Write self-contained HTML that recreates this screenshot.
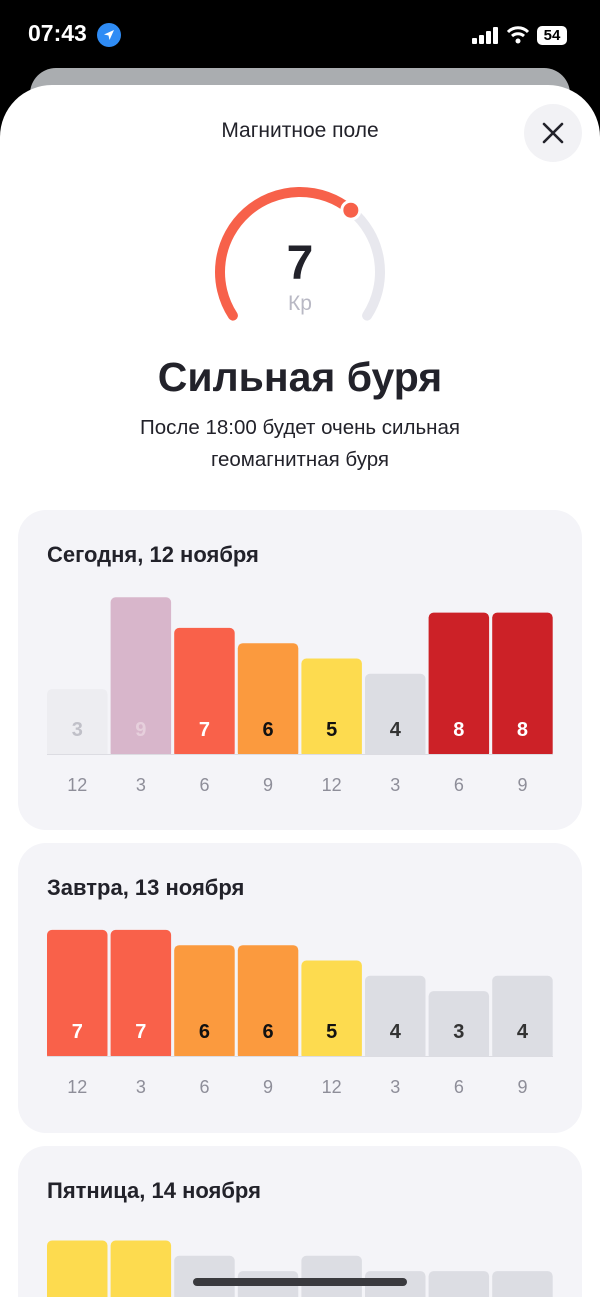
<!DOCTYPE html>
<html><head><meta charset="utf-8">
<style>
*{margin:0;padding:0;box-sizing:border-box}
html,body{width:600px;height:1297px;overflow:hidden}
body{background:#000;font-family:"Liberation Sans","Noto Sans CJK SC",sans-serif;position:relative}
.abs{position:absolute}
.sheet{position:absolute;left:0;top:85px;width:600px;height:1212px;background:#fff;border-radius:52px 52px 0 0}
.card{position:absolute;left:18px;width:564px;background:#f4f4f8;border-radius:28px;overflow:hidden}
.ctitle{position:absolute;left:29px;top:32px;font-size:22px;font-weight:bold;color:#22222a}
</style></head><body>
<div class="abs" style="left:28px;top:20px;color:#fff;font-size:23px;font-weight:bold">07:43</div>
<div class="abs" style="left:97px;top:23px;width:24px;height:24px;border-radius:50%;background:#2f8cf5"><svg width="24" height="24"><path d="M17 7 L7 11.5 L11.5 12.5 L12.5 17 Z" fill="#fff"/></svg></div>
<svg class="abs" style="left:472px;top:26px" width="30" height="20"><rect x="0" y="12" width="5" height="6" rx="1" fill="#fff"/><rect x="7" y="9" width="5" height="9" rx="1" fill="#fff"/><rect x="14" y="5" width="5" height="13" rx="1" fill="#fff"/><rect x="21" y="1" width="5" height="17" rx="1" fill="#fff"/></svg>
<svg class="abs" style="left:506px;top:25px" width="24" height="20"><path d="M2 7 A14 14 0 0 1 22 7" stroke="#fff" stroke-width="3" fill="none"/><path d="M6 11 A9 9 0 0 1 18 11" stroke="#fff" stroke-width="3" fill="none"/><circle cx="12" cy="16" r="2.5" fill="#fff"/></svg>
<div class="abs" style="left:537px;top:26px;width:30px;height:19px;background:#fff;border-radius:5px;color:#000;font-size:15px;font-weight:bold;text-align:center;line-height:19px">54</div>
<div class="abs" style="left:30px;top:68px;width:540px;height:60px;background:#aaadb0;border-radius:26px"></div>
<div class="sheet"></div>
<div class="abs" style="left:0;width:600px;top:119px;text-align:center;font-size:21px;color:#22222a">Магнитное поле</div>
<div class="abs" style="left:524px;top:104px;width:58px;height:58px;border-radius:50%;background:#f2f2f5"><svg width="58" height="58"><path d="M20 20 L38 38 M38 20 L20 38" stroke="#22222a" stroke-width="2.6" stroke-linecap="round"/></svg></div>
<svg class="abs" style="left:0;top:0" width="600" height="340" id="gauge"></svg>
<div class="abs" style="left:0;width:600px;top:236px;text-align:center;font-size:48px;font-weight:bold;color:#22222a">7</div>
<div class="abs" style="left:0;width:600px;top:292px;text-align:center;font-size:21px;color:#b8b8c4">Кр</div>
<div class="abs" style="left:0;width:600px;top:354px;text-align:center;font-size:41px;font-weight:bold;color:#22222a">Сильная буря</div>
<div class="abs" style="left:0;width:600px;top:412px;text-align:center;font-size:20.5px;line-height:32px;color:#22222a">После 18:00 будет очень сильная<br>геомагнитная буря</div>

<div class="card" style="top:510px;height:320px"><div class="ctitle">Сегодня, 12 ноября</div><svg id="c1" width="564" height="320" class="abs" style="left:0;top:0"></svg></div>
<div class="card" style="top:843px;height:290px"><div class="ctitle">Завтра, 13 ноября</div><svg id="c2" width="564" height="290" class="abs" style="left:0;top:0"></svg></div>
<div class="card" style="top:1146px;height:151px;border-radius:28px 28px 0 0"><div class="ctitle">Пятница, 14 ноября</div><svg id="c3" width="564" height="200" class="abs" style="left:0;top:0"></svg></div>
<div class="abs" style="left:193px;top:1278px;width:214px;height:8px;border-radius:4px;background:#3a3a3e"></div>
<script>
const hours = ["12","3","6","9","12","3","6","9"];
const todayValues = [3,9,7,6,5,4,8,8];
const tomorrowValues = [7,7,6,6,5,4,3,4];
const fridayValues = [5,5,4,3,4,3,3,3];
const currentKp = 7;
const gaugeMax = 10.6;
const NS="http://www.w3.org/2000/svg";
function mk(t,a){const e=document.createElementNS(NS,t);for(const k in a)e.setAttribute(k,a[k]);return e;}
(function(){
  const g=document.getElementById('gauge');const cx=300,cy=272,r=80,a0=-123,a1=123;
  const pt=a=>{const rad=a*Math.PI/180;return [cx+r*Math.sin(rad),cy-r*Math.cos(rad)];};
  const arc=(s,e)=>{const p=pt(s),q=pt(e);return `M${p[0]} ${p[1]} A${r} ${r} 0 ${(e-s)>180?1:0} 1 ${q[0]} ${q[1]}`;};
  const av=a0+(a1-a0)*currentKp/gaugeMax;
  const bg=mk('path',{d:arc(av,a1),stroke:'#e8e8ee','stroke-width':10,fill:'none','stroke-linecap':'round'});
  
  
  g.appendChild(bg);
  const fg=mk('path',{d:arc(a0,av),stroke:'#f7614a','stroke-width':10,fill:'none','stroke-linecap':'round'});
  
  
  g.appendChild(fg);
  const p=pt(av);
  const dot=mk('circle',{cx:p[0],cy:p[1],r:9,fill:'#f7614a',stroke:'#fff','stroke-width':3});
  
  
  g.appendChild(dot);
})();
function color(v){if(v>=8)return['#cc2127','#fff'];if(v==7)return['#f9614a','#fff'];if(v==6)return['#fb9a3e','#111'];if(v==5)return['#fddb4f','#111'];return['#dcdde3','#333'];}
function chart(id,vals,base,pastN,ticks){
  const s=document.getElementById(id);
  const x=i=>29+i*63.6, w=60.5, h=v=>15.3*v+19;
  vals.forEach((v,i)=>{
    let [c,tc]=color(v);
    if(i<pastN){c=v>=8?'#d8b6cb':'#ededf1';tc=v>=8?'#e6cfdc':'#c0c0c8';}
    const b=mk('rect',{x:x(i),y:base-h(v),width:w,height:h(v)+4,rx:5,fill:c});
    
    
    s.appendChild(b);
    const t=mk('text',{x:x(i)+w/2,y:base-18,'text-anchor':'middle','font-size':20,'font-weight':'bold','font-family':'Liberation Sans',fill:tc});
    t.textContent=v;
    
    
    s.appendChild(t);
    if(ticks){const l=mk('text',{x:x(i)+w/2,y:base+37,'text-anchor':'middle','font-size':18,'font-family':'Liberation Sans',fill:'#8e8e99'});
    l.textContent=hours[i];
    
    
    s.appendChild(l);}
  });
  const cover=mk('rect',{x:0,y:base,width:564,height:4,fill:'#f4f4f8'});s.appendChild(cover);
  const ln=mk('line',{x1:29,x2:535,y1:base+0.5,y2:base+0.5,stroke:'#dcdce2','stroke-width':1});
  
  
  s.appendChild(ln);
}
chart('c1',todayValues,244,2,true);
chart('c2',tomorrowValues,213,0,true);
chart('c3',fridayValues,190,0,false);
</script>
</body></html>
